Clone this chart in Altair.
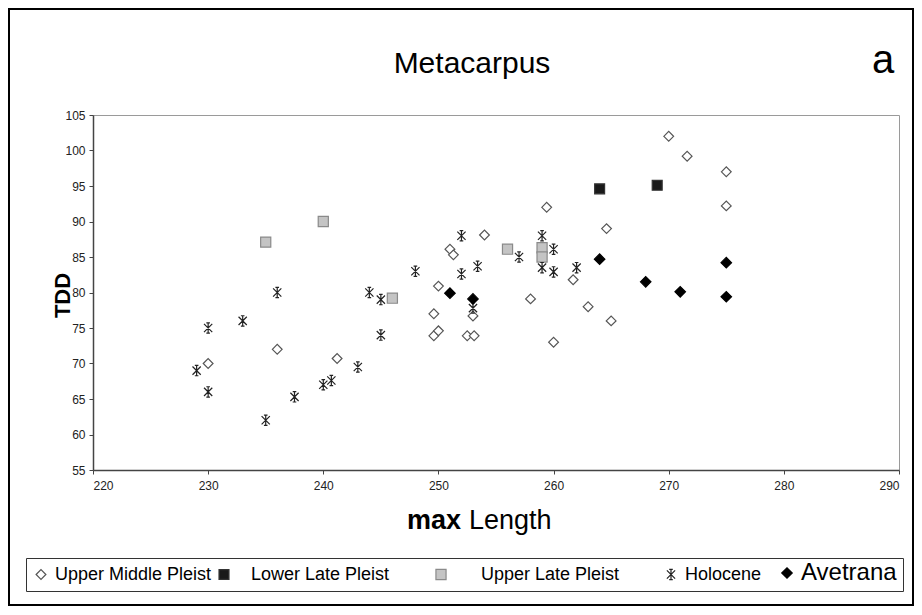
import altair as alt
import pandas as pd

groups = ["Upper Middle Pleist", "Lower Late Pleist", "Upper Late Pleist", "Holocene", "Avetrana"]

ump_x = [230, 236, 241.2, 249.6, 250, 249.6, 250, 251, 251.3, 252.5, 253.1, 253, 254, 258, 259.4, 260, 261.7, 263, 264.6, 265, 270, 271.6, 275, 275]
ump_y = [70, 72, 70.7, 73.9, 74.6, 77.0, 80.9, 86.1, 85.3, 73.9, 73.9, 76.7, 88.1, 79.1, 92, 73, 81.8, 78, 89, 76, 102, 99.2, 97, 92.2]
llp_x = [264, 269]
llp_y = [94.6, 95.1]
ulp_x = [235, 240, 246, 256, 259, 259]
ulp_y = [87.1, 90, 79.2, 86.1, 86.3, 85]
hol_x = [229, 230, 230, 233, 236, 235, 237.5, 240, 240.7, 243, 244, 245, 245, 248, 252, 252, 253.4, 253, 257, 259, 259, 260, 260, 262]
hol_y = [69, 75, 66, 76, 80, 62, 65.3, 67, 67.6, 69.5, 80, 79, 74, 83, 88, 82.6, 83.7, 77.8, 85, 88, 83.5, 86.1, 82.9, 83.5]
ave_x = [251, 253, 264, 268, 271, 275, 275]
ave_y = [79.9, 79.1, 84.7, 81.5, 80.1, 84.2, 79.4]

x_ticks = [220, 230, 240, 250, 260, 270, 280, 290]
y_ticks = [55, 60, 65, 70, 75, 80, 85, 90, 95, 100, 105]

series = [(groups[0], ump_x, ump_y), (groups[1], llp_x, llp_y), (groups[2], ulp_x, ulp_y),
          (groups[3], hol_x, hol_y), (groups[4], ave_x, ave_y)]
rows = []
for g, xs, ys in series:
    for a, b in zip(xs, ys):
        rows.append({"group": g, "len": a, "tdd": b})
df = pd.DataFrame(rows)

FONT = "Liberation Sans"
asterisk = "M0,-1L0,1M-0.8,-0.8L0.8,0.8M-0.8,0.8L0.8,-0.8M-0.35,-1L0.35,-1M-0.35,1L0.35,1"
shapes = ["diamond", "square", "square", asterisk, "diamond"]
fills = ["white", "#1a1a1a", "#c4c4c4", "transparent", "black"]
strokes = ["#555555", "#333333", "#8a8a8a", "#222222", "black"]
sizes = [95, 110, 110, 100, 240]

# legend spacing with blank (non-whitespace) padding glyphs
PAD = "\u2800"
lead = {"Lower Late Pleist": 1, "Upper Late Pleist": 2}
trail = {"Lower Late Pleist": 3, "Upper Late Pleist": 3, "Holocene": 1}
expr = "datum.label"
for g in reversed(groups):
    txt = PAD * lead.get(g, 0) + g + PAD * trail.get(g, 0)
    expr = f"datum.label == '{g}' ? '{txt}' : ({expr})"

leg = alt.Legend(
    title=None, orient="none", direction="horizontal", legendX=-67, legendY=443,
    padding=6, strokeColor="#333333", fillColor="white", columnPadding=3,
    labelFont=FONT, labelFontSize={"expr": "datum.label == 'Avetrana' ? 24 : 18"},
    labelColor="black", labelOffset=5, labelLimit=500, labelExpr=expr,
    symbolStrokeWidth=1.2, symbolOpacity=1,
)

points = alt.Chart(df).mark_point(opacity=1, strokeWidth=1.2).encode(
    x=alt.X("len:Q", scale=alt.Scale(domain=[220, 290], nice=False, zero=False),
            axis=alt.Axis(values=x_ticks, title=None, labelPadding=6)),
    y=alt.Y("tdd:Q", scale=alt.Scale(domain=[55, 105], nice=False, zero=False),
            axis=alt.Axis(values=y_ticks, title="TDD", titleFont=FONT, titleFontSize=22,
                          titleFontWeight="bold", titleColor="black", titleX=-31, titleY=180,
                          titleBaseline="middle", labelPadding=4)),
    shape=alt.Shape("group:N", scale=alt.Scale(domain=groups, range=shapes), legend=leg),
    fill=alt.Fill("group:N", scale=alt.Scale(domain=groups, range=fills), legend=leg),
    stroke=alt.Stroke("group:N", scale=alt.Scale(domain=groups, range=strokes), legend=leg),
    size=alt.Size("group:N", scale=alt.Scale(domain=groups, range=sizes), legend=leg),
    order=alt.Order("ord:Q"),
).transform_calculate(ord=f"indexof({groups!r}, datum.group)")

title = alt.Chart(pd.DataFrame({"t": ["Metacarpus"]})).mark_text(
    font=FONT, fontSize=30, align="center", baseline="alphabetic", color="black").encode(
    x=alt.value(379), y=alt.value(-42), text="t:N")
letter = alt.Chart(pd.DataFrame({"t": ["a"]})).mark_text(
    font=FONT, fontSize=40, align="left", baseline="alphabetic", color="black").encode(
    x=alt.value(779), y=alt.value(-42), text="t:N")
xt1 = alt.Chart(pd.DataFrame({"t": ["max"]})).mark_text(
    font=FONT, fontSize=27, fontWeight="bold", align="right", baseline="alphabetic",
    color="black").encode(x=alt.value(368), y=alt.value(414), text="t:N")
xt2 = alt.Chart(pd.DataFrame({"t": ["Length"]})).mark_text(
    font=FONT, fontSize=27, align="left", baseline="alphabetic", color="black").encode(
    x=alt.value(376), y=alt.value(414), text="t:N")
frame = alt.Chart(pd.DataFrame({"k": [0]})).mark_rect(
    fillOpacity=0, stroke="black", strokeWidth=2).encode(
    x=alt.value(-84), x2=alt.value(820), y=alt.value(-106), y2=alt.value(490))

chart = alt.layer(frame, points, title, letter, xt1, xt2).properties(
    width=806, height=355,
    autosize=alt.AutoSizeParams(type="none"),
    padding={"left": 85, "top": 107, "right": 15, "bottom": 137},
    background="white",
).configure_view(stroke="#9a9a9a", strokeWidth=1).configure_axis(
    labelFont=FONT, labelFontSize=12, labelColor="#222222", tickColor="#444444",
    domainColor="#444444", domainWidth=1.5, tickSize=4, grid=False,
)

chart.save("out.html", embed_options={"renderer": "svg", "actions": False})
